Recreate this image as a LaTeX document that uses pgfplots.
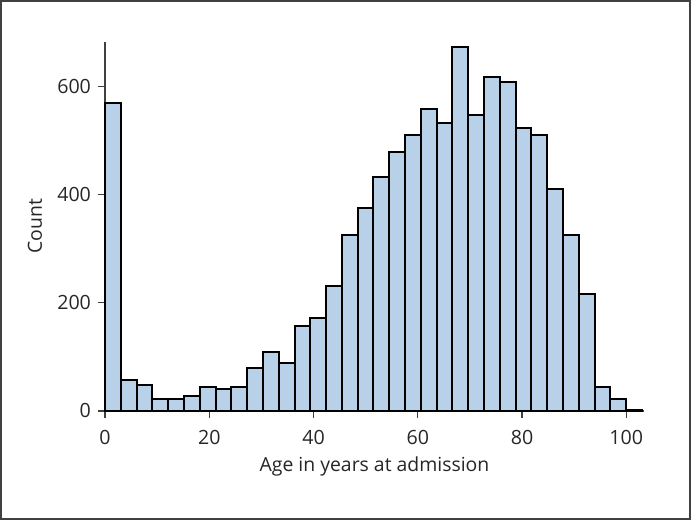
\documentclass[border=0pt]{standalone}
\usepackage{pgfplots}
\pgfplotsset{compat=1.18}
\usepackage{fontspec}
\setmainfont{Open Sans}
\definecolor{barfill}{HTML}{B9D0E9}
\definecolor{axgray}{HTML}{404040}
\pgfplotstableread{
x y
0.000 570
3.029 57
6.059 48
9.088 22
12.118 22
15.147 28
18.176 44
21.206 40
24.235 44
27.265 80
30.294 109
33.324 89
36.353 157
39.382 171
42.412 231
45.441 325
48.471 375
51.500 433
54.529 479
57.559 511
60.588 559
63.618 532
66.647 673
69.676 548
72.706 618
75.735 609
78.765 523
81.794 510
84.824 411
87.853 325
90.882 216
93.912 44
96.941 22
99.971 2
103.000 2
}\agedata
\begin{document}
\begin{tikzpicture}
\begin{axis}[
  scale only axis,
  width=269.5pt, height=184.5pt,
  xmin=0, xmax=103.4, ymin=0, ymax=683,
  axis lines*=left,
  axis line style={axgray, line width=0.8pt},
  tick align=outside,
  major tick length=3.5pt,
  tick style={axgray, line width=0.7pt},
  xtick={0,20,40,60,80,100},
  ytick={0,200,400,600},
  /pgf/number format/assume math mode=true,
  tick label style={font=\fontsize{9.8}{12}\selectfont, text=black!85},
  xticklabel style={yshift=-2.5pt},
  label style={font=\fontsize{9.7}{12}\selectfont, text=black!85},
  xlabel={Age in years at admission},
  ylabel={Count},
  xlabel style={at={(axis description cs:0.5,-0.152)}, anchor=center},
  ylabel style={at={(axis description cs:-0.13,0.5)}, anchor=center},
  clip=false,
]
\addplot[ybar interval, fill=barfill, draw=black, line width=1pt] table[x=x,y=y] {\agedata};
\end{axis}
\draw[axgray, line width=1pt] (-52pt,-54.2pt) rectangle (292.5pt,204.9pt);
\end{tikzpicture}
\end{document}
